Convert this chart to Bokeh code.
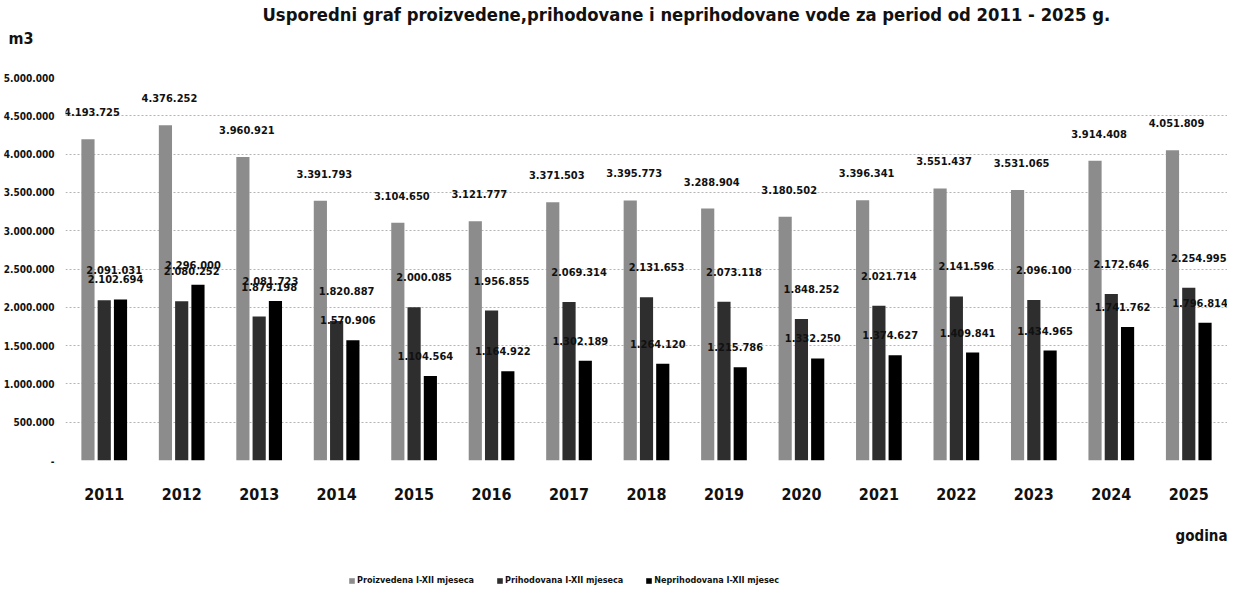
from bokeh.plotting import figure
from bokeh.models import (FactorRange, ColumnDataSource, LabelSet, Label, FixedTicker, Range1d,
                          Title, Legend, LegendItem)
from bokeh.layouts import column
from bokeh.core.properties import value
from bokeh.transform import dodge
from bokeh.embed import file_html
from bokeh.resources import INLINE

years = ["2011", "2012", "2013", "2014", "2015", "2016", "2017", "2018",
         "2019", "2020", "2021", "2022", "2023", "2024", "2025"]
proizvedena = [4193725, 4376252, 3960921, 3391793, 3104650, 3121777, 3371503, 3395773,
               3288904, 3180502, 3396341, 3551437, 3531065, 3914408, 4051809]
prihodovana = [2091031, 2080252, 1879198, 1820887, 2000085, 1956855, 2069314, 2131653,
               2073118, 1848252, 2021714, 2141596, 2096100, 2172646, 2254995]
neprihodovana = [2102694, 2296000, 2081723, 1570906, 1104564, 1164922, 1302189, 1264120,
                 1215786, 1332250, 1374627, 1409841, 1434965, 1741762, 1796814]
series_names = ["Proizvedena I-XII mjeseca", "Prihodovana I-XII mjeseca", "Neprihodovana I-XII mjesec"]
y_ticks = [0, 500000, 1000000, 1500000, 2000000, 2500000, 3000000, 3500000, 4000000, 4500000, 5000000]
y_tick_labels = ["-", "500.000", "1.000.000", "1.500.000", "2.000.000", "2.500.000",
                 "3.000.000", "3.500.000", "4.000.000", "4.500.000", "5.000.000"]
title_text = "Usporedni graf proizvedene,prihodovane i neprihodovane vode za period od 2011 - 2025  g."
y_unit = "m3"
x_title = "godina"


def fmt(v):
    return f"{v:,}".replace(",", ".")


src = ColumnDataSource(dict(
    year=years,
    a=proizvedena, b=prihodovana, c=neprihodovana,
    al=[fmt(v) for v in proizvedena],
    bl=[fmt(v) for v in prihodovana],
    cl=[fmt(v) for v in neprihodovana],
))

FONT = "DejaVu Sans Condensed"
INK = "#111111"
colors = ["#8c8c8c", "#2e2e2e", "#000000"]


def strip(height):
    f = figure(width=1227, height=height, x_range=Range1d(0, 1), y_range=Range1d(0, 1),
               output_backend="svg", toolbar_location=None,
               min_border_left=0, min_border_right=0, min_border_top=0, min_border_bottom=0)
    f.outline_line_color = None
    f.xaxis.visible = False
    f.yaxis.visible = False
    f.xgrid.visible = False
    f.ygrid.visible = False
    f.title.visible = False
    return f


# ---- header strip: title and unit ----
p0 = strip(47)
p0.add_layout(Label(x=197, y=12, x_units="screen", y_units="screen", text=title_text,
                    text_align="left", text_baseline="middle", text_font=FONT,
                    text_font_size="18.3px", text_font_style="bold", text_color=INK))
m3 = Title(text=y_unit, align="left", offset=-57, text_font=FONT, text_font_size="16px",
           text_font_style="bold", text_color=INK, standoff=0)
p0.add_layout(m3, "below")

# ---- main chart ----
p = figure(x_range=FactorRange(*years), y_range=Range1d(0, 5000000),
           width=1227, height=519, output_backend="svg", toolbar_location=None,
           min_border_left=65, min_border_right=0, min_border_top=30, min_border_bottom=103)
p.outline_line_color = None
p.background_fill_color = "white"
p.border_fill_color = "white"

offs = [-0.21, 0.0, 0.21]
cols = ["a", "b", "c"]
for col, off, colr in zip(cols, offs, colors):
    p.vbar(x=dodge("year", off, range=p.x_range), top=col, width=0.17, source=src,
           fill_color=colr, line_color=None)

lab_dx = [4, 10, -5]
lab_dy = [27, 30, 20]
for col, off, dx, dy in zip(cols, offs, lab_dx, lab_dy):
    ls = LabelSet(x=dodge("year", off, range=p.x_range), y=col, text=col + "l", source=src,
                  x_offset=dx, y_offset=dy, text_align="center", text_baseline="middle",
                  text_font=value(FONT), text_font_size="11px", text_font_style="bold",
                  text_color=INK)
    p.add_layout(ls)

p.yaxis.ticker = FixedTicker(ticks=y_ticks)
p.yaxis.major_label_overrides = {t: l for t, l in zip(y_ticks, y_tick_labels)}
p.yaxis.axis_line_color = None
p.yaxis.major_tick_line_color = None
p.yaxis.minor_tick_line_color = None
p.yaxis.major_tick_out = 0
p.yaxis.minor_tick_out = 0
p.yaxis.major_label_text_font = FONT
p.yaxis.major_label_text_font_size = "10px"
p.yaxis.major_label_text_font_style = "bold"
p.yaxis.major_label_text_color = INK
p.yaxis.major_label_standoff = 11

p.xaxis.axis_line_color = None
p.xaxis.major_tick_line_color = None
p.xaxis.minor_tick_line_color = None
p.xaxis.major_tick_out = 0
p.xaxis.minor_tick_out = 0
p.xaxis.major_label_text_font = FONT
p.xaxis.major_label_text_font_size = "16px"
p.xaxis.major_label_text_font_style = "bold"
p.xaxis.major_label_text_color = INK
p.xaxis.major_label_standoff = 27

p.xgrid.grid_line_color = None
p.ygrid.grid_line_color = "#b4b4b4"
p.ygrid.grid_line_dash = "2 2"
p.ygrid.grid_line_width = 1

god = Title(text=x_title, align="right", offset=0, text_font=FONT, text_font_size="15px",
            text_font_style="bold", text_color=INK, standoff=44)
p.add_layout(god, "below")

# ---- legend strip ----
p2 = strip(20)
rends = [p2.vbar(x=[-1], top=[0], width=0.1, fill_color=c, line_color=None) for c in colors]
leg = Legend(items=[LegendItem(label=n, renderers=[r]) for n, r in zip(series_names, rends)],
             location=(283, 1), orientation="horizontal")
leg.label_text_font = FONT
leg.label_text_font_size = "9px"
leg.label_text_font_style = "bold"
leg.label_text_color = INK
leg.glyph_width = 7
leg.glyph_height = 7
leg.spacing = 22
leg.padding = 2
leg.margin = 0
leg.label_standoff = 2
leg.border_line_color = None
leg.background_fill_alpha = 0
leg.label_height = 10
p2.add_layout(leg, "center")

open("out.html", "w").write(file_html(column(p0, p, p2, spacing=0), INLINE))
